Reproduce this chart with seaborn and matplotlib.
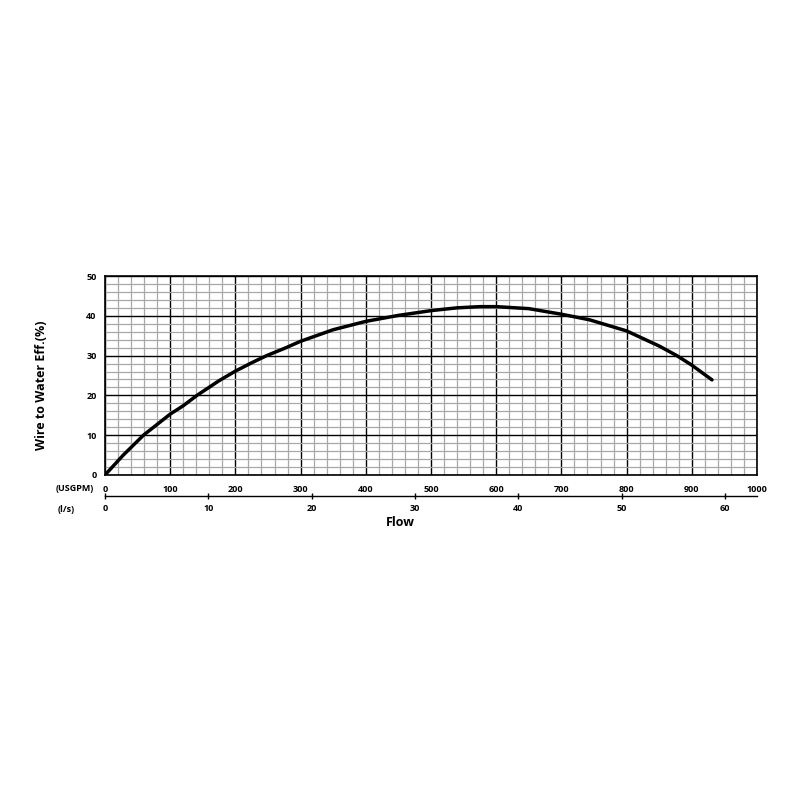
import numpy as np
import pandas as pd
import matplotlib
matplotlib.use("Agg")
import matplotlib.pyplot as plt
import seaborn as sns
from matplotlib.ticker import MultipleLocator

# Data
flow_gpm = [0, 28, 59, 100, 120, 141, 175, 200, 225, 248, 275, 300, 350, 400, 450, 500, 540, 575, 600, 650, 700, 743, 800, 850, 877, 900, 931]
efficiency = [0.0, 5.0, 10.0, 15.3, 17.4, 20.0, 23.7, 26.1, 28.2, 30.0, 31.8, 33.6, 36.5, 38.6, 40.1, 41.3, 42.0, 42.3, 42.3, 41.8, 40.4, 39.0, 36.2, 32.4, 30.0, 27.6, 23.9]
gpm_ticks = [0, 100, 200, 300, 400, 500, 600, 700, 800, 900, 1000]
ls_ticks = [0, 10, 20, 30, 40, 50, 60]
eff_ticks = [0, 10, 20, 30, 40, 50]
GPM_PER_LS = 15.85

sns.set_theme(style="white")
FONT = ["Open Sans", "DejaVu Sans"]
plt.rcParams["font.family"] = FONT
plt.rcParams["text.color"] = "black"
plt.rcParams["axes.labelcolor"] = "black"
plt.rcParams["xtick.color"] = "black"
plt.rcParams["ytick.color"] = "black"

df = pd.DataFrame({"flow": flow_gpm, "eff": efficiency})

fig = plt.figure(figsize=(8, 8), dpi=100)
ax = fig.add_axes([105 / 800, 1 - 475 / 800, (757 - 105) / 800, (475 - 276) / 800])

sns.lineplot(data=df, x="flow", y="eff", ax=ax, color="black", linewidth=2.5, zorder=5)
ax.lines[0].set_solid_joinstyle("round")
ax.lines[0].set_solid_capstyle("round")

ax.set_xlim(0, 1000)
ax.set_ylim(0, 50)
ax.set_xticks(gpm_ticks)
ax.set_yticks(eff_ticks)
ax.xaxis.set_minor_locator(MultipleLocator(20))
ax.yaxis.set_minor_locator(MultipleLocator(2))
ax.grid(which="minor", color="#a8a8a8", linewidth=0.9)
ax.grid(which="major", color="black", linewidth=1.0)
ax.set_axisbelow(True)
for s in ax.spines.values():
    s.set_color("black")
    s.set_linewidth(1.2)

ax.tick_params(axis="x", which="both", length=0, pad=7, labelsize=6.5, labelcolor="black")
ax.tick_params(axis="y", which="major", length=3, width=1, color="black", direction="out", pad=3, labelsize=6.5, labelcolor="black")
ax.tick_params(axis="y", which="minor", length=0)
ax.tick_params(axis="x", which="minor", length=0)
for lab in ax.get_xticklabels() + ax.get_yticklabels():
    lab.set_fontweight("bold")
ax.set_xlabel("")
ax.set_ylabel("Wire to Water Eff.(%)", fontsize=9, fontweight="bold", color="black")
ax.yaxis.set_label_coords(-0.087, 0.45)

sec = ax.secondary_xaxis(-0.1055, functions=(lambda x: x / GPM_PER_LS, lambda x: x * GPM_PER_LS))
sec.set_xticks(ls_ticks)
sec.tick_params(axis="x", length=5, width=1, direction="inout", pad=3, labelsize=6.5, color="black", labelcolor="black")
sec.spines["bottom"].set_color("black")
sec.spines["bottom"].set_linewidth(1.0)
for lab in sec.get_xticklabels():
    lab.set_fontweight("bold")

fig.text(75 / 800, 1 - 489 / 800, "(USGPM)", ha="center", va="center", fontsize=6.5, fontweight="bold", color="black")
fig.text(66 / 800, 1 - 509 / 800, "(l/s)", ha="center", va="center", fontsize=6.5, fontweight="bold", color="black")
fig.text(400 / 800, 1 - 522 / 800, "Flow", ha="center", va="center", fontsize=9, fontweight="bold", color="black")

fig.savefig("out.png", dpi=100, facecolor="white")
